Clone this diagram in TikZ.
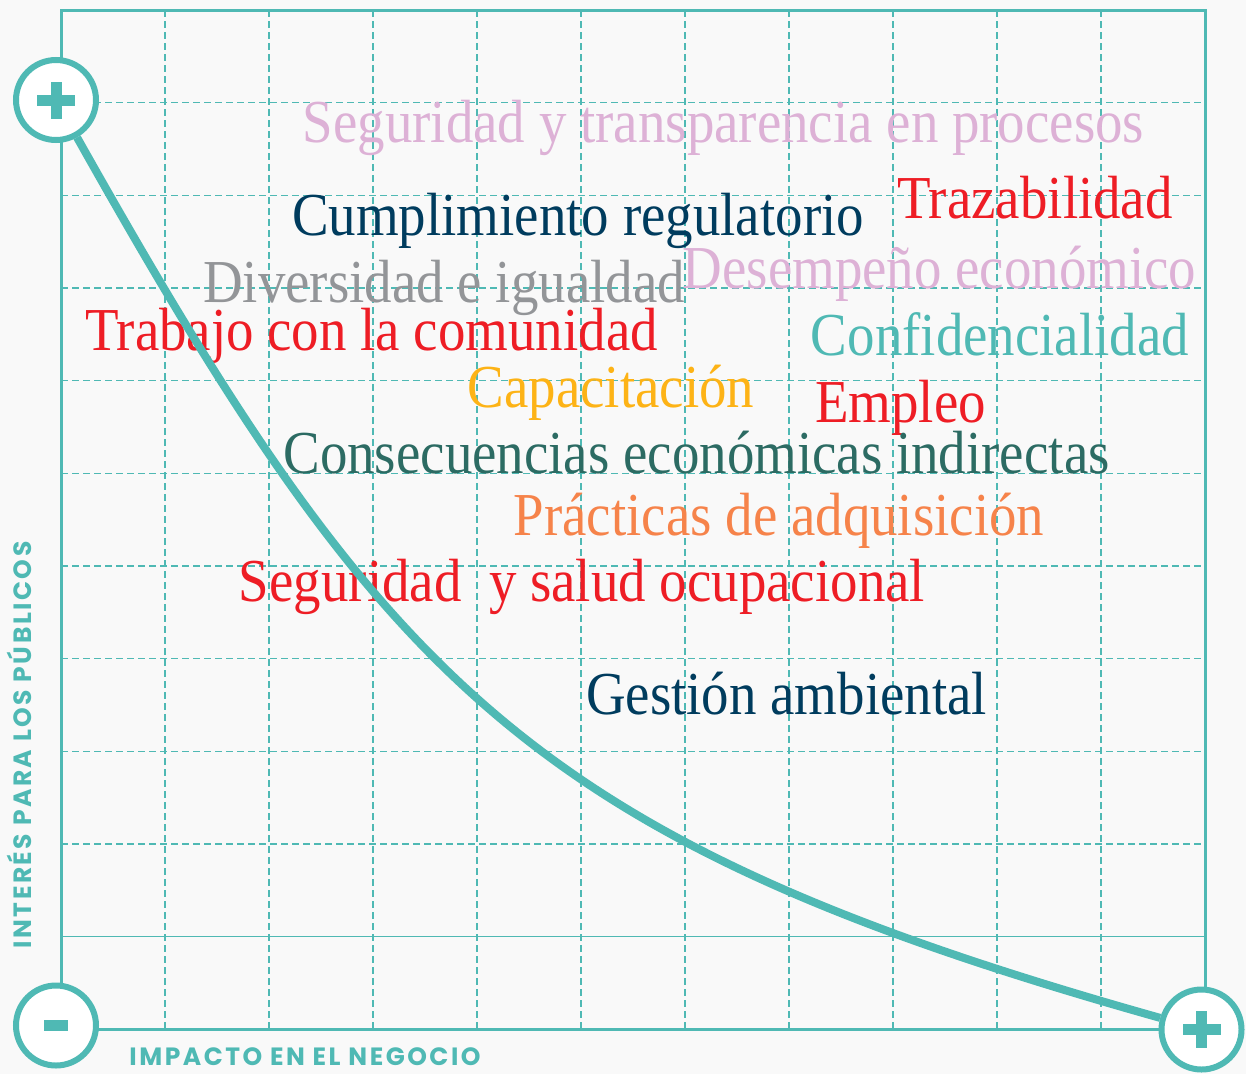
\documentclass[tikz,border=0pt]{standalone}
\usepackage{fontspec}
\setmainfont{Liberation Serif}[FakeStretch=0.90]
\newfontfamily\labelfont{Poppins}[LetterSpace=10]
\definecolor{tealc}{HTML}{4FB9B4}
\definecolor{pinkc}{HTML}{DDB1D6}
\definecolor{navyc}{HTML}{003C5E}
\definecolor{redc}{HTML}{EE1D25}
\definecolor{grayc}{HTML}{939598}
\definecolor{yellowc}{HTML}{FDB316}
\definecolor{dkgreenc}{HTML}{2C6B63}
\definecolor{orangec}{HTML}{F6834A}
\definecolor{bgc}{HTML}{F9F9F9}
\begin{document}
\begin{tikzpicture}[x=1pt,y=-1pt,
  gridline/.style={draw=tealc, line width=1.3pt, dash pattern=on 7pt off 4pt},
  item/.style={anchor=base, inner sep=0pt, font=\fontsize{61}{70}\selectfont},
  sign/.style={circle, draw=tealc, line width=6pt, fill=white, minimum size=80pt, inner sep=0pt},
  axislabel/.style={text=tealc, font=\labelfont\bfseries\fontsize{25}{28}\selectfont, inner sep=0pt}
]
\useasboundingbox (0,0) rectangle (1246,1074);
\fill[bgc] (0,0) rectangle (1246,1074);
% grid
\foreach \i in {1,...,10} \draw[gridline] (61+104*\i,10) -- (61+104*\i,1029.5);
\foreach \j in {1,...,9} \draw[gridline] (61,10+92.67*\j) -- (1205,10+92.67*\j);
\draw[tealc, line width=1.5pt] (61,936.7) -- (1205,936.7);
\draw[tealc, line width=3pt] (61,10) rectangle (1205,1029.5);
% topics
\node[item, text=pinkc] (t1) at (723.5,142) {Seguridad y transparencia en procesos};
\node[item, text=navyc] (t2) at (578,235) {Cumplimiento regulatorio};
\node[item, text=redc] (t3) at (1035,218) {Trazabilidad};
\node[item, text=grayc] (t4) at (444,302) {Diversidad e igualdad};
\node[item, text=pinkc] (t5) at (939.5,288) {Desempeño económico};
\node[item, text=redc] (t6) at (371.5,350) {Trabajo con la comunidad};
\node[item, text=tealc] (t7) at (1000,355) {Confidencialidad};
\node[item, text=yellowc] (t8) at (611,407) {Capacitación};
\node[item, text=redc] (t9) at (900.5,422) {Empleo};
\node[item, text=dkgreenc] (t10) at (696.5,473) {Consecuencias económicas indirectas};
\node[item, text=orangec] (t11) at (779,535) {Prácticas de adquisición};
\node[item, text=redc] (t12) at (582,601) {Seguridad\ \ y salud ocupacional};
\node[item, text=navyc] (t13) at (786.5,714) {Gestión ambiental};
% axis labels
\node[axislabel, rotate=90] (ylab) at (19,745) {INTERÉS PARA LOS PÚBLICOS};
\node[axislabel] (xlab) at (305,1057) {IMPACTO EN EL NEGOCIO};
% sign circles
\node[sign] (c1) at (56,100) {};
\node[sign] (c2) at (56,1025.5) {};
\node[sign] (c3) at (1201.5,1029.5) {};
\fill[tealc] ([xshift=-19pt,yshift=5.5pt]c1.center) rectangle ++(38,11);
\fill[tealc] ([xshift=-5.5pt,yshift=18.5pt]c1.center) rectangle ++(11,37);
\fill[tealc] ([xshift=-12pt,yshift=5.5pt]c2.center) rectangle ++(24,11);
\fill[tealc] ([xshift=-19pt,yshift=5.5pt]c3.center) rectangle ++(38,11);
\fill[tealc] ([xshift=-5.5pt,yshift=18.5pt]c3.center) rectangle ++(11,37);
% curve
\draw[tealc, line width=8pt] (c1) .. controls (385,685) and (531,841) .. (c3);
\end{tikzpicture}
\end{document}
